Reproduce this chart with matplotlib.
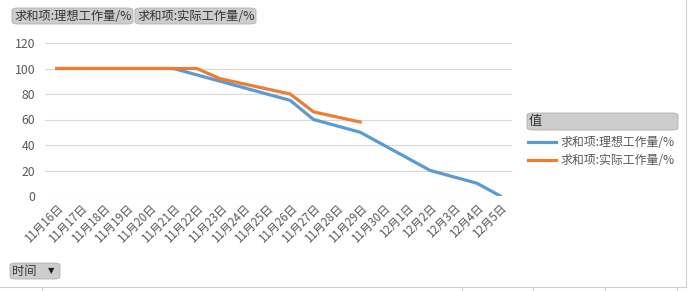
import matplotlib.pyplot as plt
from matplotlib.patches import FancyBboxPatch
from matplotlib.lines import Line2D
import numpy as np

plt.rcParams['font.family'] = ['Noto Sans CJK SC', 'DejaVu Sans']

# data
days = ["11月16日", "11月17日", "11月18日", "11月19日", "11月20日", "11月21日",
        "11月22日", "11月23日", "11月24日", "11月25日", "11月26日", "11月27日",
        "11月28日", "11月29日", "11月30日", "12月1日", "12月2日", "12月3日",
        "12月4日", "12月5日"]
ideal = [100, 100, 100, 100, 100, 100, 95, 90, 85, 80, 75, 60, 55, 50, 40, 30, 20, 15, 10, 0]
actual = [100, 100, 100, 100, 100, 100, 100, 92, 88, 84, 80, 66, 62, 58]
ideal_name = "求和项:理想工作量/%"
actual_name = "求和项:实际工作量/%"
blue = "#5B9BD5"
orange = "#ED7D31"
txt = "#595959"

W, H = 690, 291
fig = plt.figure(figsize=(W / 100, H / 100), dpi=100)

def fx(px):
    return px / W

def fy(py):
    return 1 - py / H

ax = fig.add_axes([fx(45), fy(196), fx(512 - 45), fy(43) - fy(196)])
x = np.arange(len(days))
ax.plot(x, ideal, color=blue, lw=2.3, solid_joinstyle='round', zorder=3)
ax.plot(x[:len(actual)], actual, color=orange, lw=2.3, solid_joinstyle='round', zorder=4)
ax.set_xlim(-0.5, len(days) - 0.5)
ax.set_ylim(0, 120)
ax.set_yticks(range(0, 121, 20))
ax.set_xticks(x)
ax.set_xticklabels(days, rotation=45, ha='right', va='top', rotation_mode='anchor',
                   fontsize=8.3, color=txt)
ax.tick_params(axis='y', length=0, pad=7, labelsize=8.8, labelcolor=txt)
ax.tick_params(axis='x', length=0, pad=4)
ax.grid(axis='y', color='#D9D9D9', lw=0.8)
ax.set_axisbelow(True)
for s in ax.spines.values():
    s.set_visible(False)

# field buttons (pivot chart)
def button(x0, y0, w, h, label, size=8.8):
    p = FancyBboxPatch((fx(x0), fy(y0 + h)), fx(w), fy(y0) - fy(y0 + h),
                       boxstyle="round,pad=0,rounding_size=0.008",
                       transform=fig.transFigure, facecolor='#CDCDCD',
                       edgecolor='#B0B0B0', lw=0.6)
    fig.add_artist(p)
    if label:
        fig.text(fx(x0 + 2), fy(y0 + h / 2), label, fontsize=size, color='#333333',
                 ha='left', va='center')

button(12, 8, 121, 16, ideal_name)
button(135, 8, 121, 16, actual_name)
button(10, 263, 50, 16, "时间")
fig.text(fx(51), fy(271), "▼", fontsize=6, color='#202020', ha='center', va='center',
         family='DejaVu Sans')
button(527, 113, 151, 17, "值", size=9.5)

# legend
for i, (name, c) in enumerate([(ideal_name, blue), (actual_name, orange)]):
    yy = 142 + i * 18
    fig.add_artist(Line2D([fx(528), fx(556)], [fy(yy), fy(yy)], color=c, lw=2.3,
                          transform=fig.transFigure))
    fig.text(fx(561), fy(yy), name, fontsize=8.6, color=txt, ha='left', va='center')

# chart area border and spreadsheet strip below
fig.add_artist(Line2D([0, fx(686)], [fy(287), fy(287)], color='#D0D0D0', lw=0.8,
                      transform=fig.transFigure))
fig.add_artist(Line2D([fx(686), fx(686)], [fy(287), 1], color='#D0D0D0', lw=0.8,
                      transform=fig.transFigure))
for vx in [42, 462, 533, 605, 677]:
    fig.add_artist(Line2D([fx(vx), fx(vx)], [0, fy(288)], color='#D0D0D0', lw=0.8,
                          transform=fig.transFigure))

fig.savefig("out.png", dpi=100, facecolor='white')
